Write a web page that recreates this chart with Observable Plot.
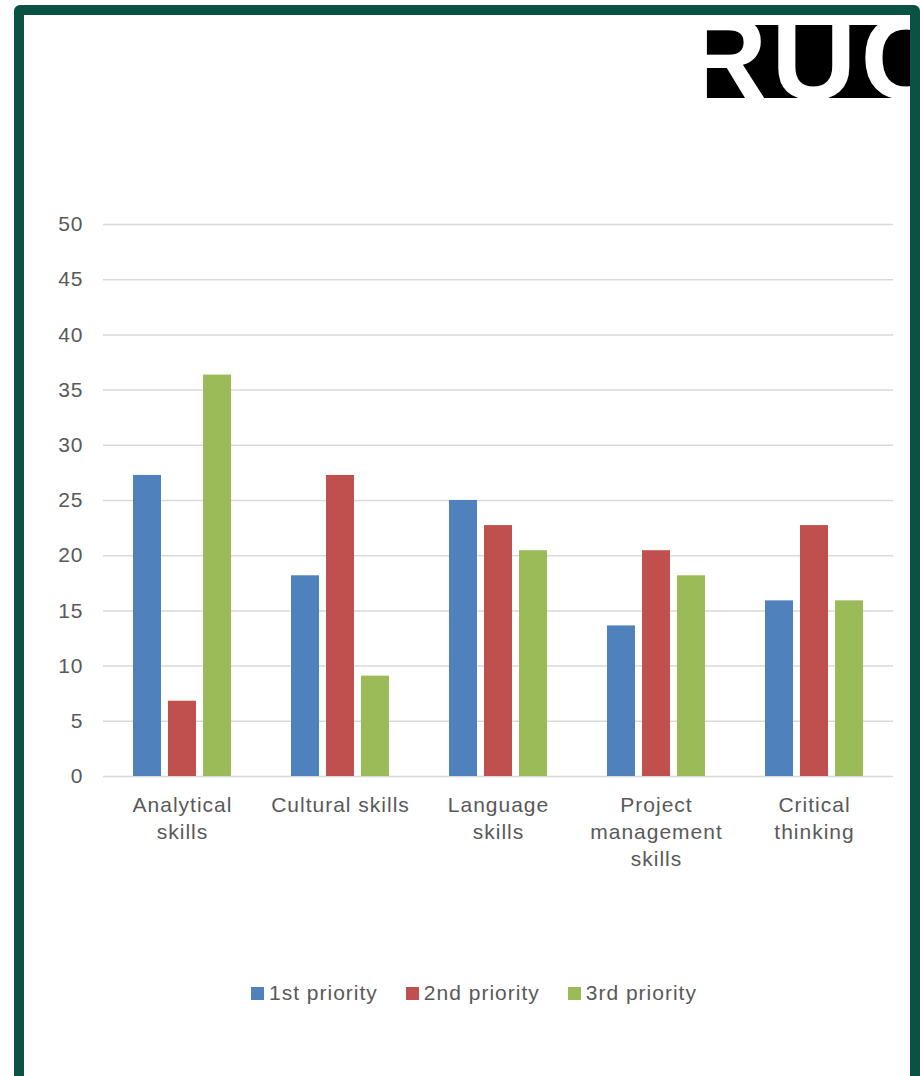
<!DOCTYPE html>
<html>
<head>
<meta charset="utf-8">
<script src="https://cdn.jsdelivr.net/npm/d3@7"></script>
<script src="https://cdn.jsdelivr.net/npm/@observablehq/plot@0.6"></script>
<style>
  html, body { margin: 0; padding: 0; background: #fff; width: 920px; height: 1076px; overflow: hidden; position: relative; font-family: "Liberation Sans", Arial, sans-serif; }
  #frame { position: absolute; left: 14px; top: 5px; width: 906px; height: 1081px; border: 10px solid #0c5244; border-radius: 6px; box-sizing: border-box; }
  #logo { position: absolute; left: 706px; top: 25px; width: 204px; height: 73px; overflow: hidden; background: #000; }
  #logo span { position: absolute; left: -24px; top: -26px; font: 700 118px "Liberation Sans", Arial, sans-serif; letter-spacing: 4px; color: #fff; line-height: 118px; white-space: nowrap; }
  #chart { position: absolute; left: 0; top: 0; }
  #chart svg text { letter-spacing: 1px; }
  #legend { position: absolute; left: 251px; top: 981px; display: flex; align-items: center; font-size: 21px; letter-spacing: 1px; color: #595959; }
  .item { display: flex; align-items: center; margin-right: 28px; }
  .sw { width: 13px; height: 13px; margin-right: 5px; }
</style>
</head>
<body>
<div id="frame"></div>
<div id="logo"><span>RUC</span></div>
<div id="chart"></div>
<div id="legend"></div>
<script>
const skills = ["Analytical skills", "Cultural skills", "Language skills", "Project management skills", "Critical thinking"];
const skillLabels = ["Analytical\nskills", "Cultural skills", "Language\nskills", "Project\nmanagement\nskills", "Critical\nthinking"];
const series = ["1st priority", "2nd priority", "3rd priority"];
const first = [27.27, 18.18, 25.0, 13.64, 15.91];
const second = [6.82, 27.27, 22.73, 20.45, 22.73];
const third = [36.36, 9.09, 20.45, 18.18, 15.91];
const colors = ["#4f81bd", "#c0504d", "#9bbb59"];
const yTicks = [0, 5, 10, 15, 20, 25, 30, 35, 40, 45, 50];

const seriesValues = [first, second, third];
const data = [];
skills.forEach((s, i) => series.forEach((k, j) => data.push({skill: s, series: k, value: seriesValues[j][i]})));

const chart = Plot.plot({
  width: 920,
  height: 900,
  marginLeft: 103,
  marginRight: 27,
  marginTop: 224,
  marginBottom: 124,
  style: {fontFamily: "'Liberation Sans', Arial, sans-serif", fontSize: "21px", background: "transparent", color: "#595959"},
  fx: {domain: skills, padding: 0},
  x: {domain: series, paddingInner: 0.2, paddingOuter: 0.85, axis: null},
  y: {domain: [0, 50], ticks: yTicks},
  color: {domain: series, range: colors},
  marks: [
    Plot.gridY(yTicks, {stroke: "#d9d9d9", strokeOpacity: 1, strokeWidth: 1.5}),
    Plot.barY(data, {fx: "skill", x: "series", y: "value", fill: "series"}),
    Plot.axisY(yTicks, {tickSize: 0, tickPadding: 20, fontSize: 21, fill: "#595959", label: null}),
    Plot.axisFx({anchor: "bottom", tickSize: 0, tickPadding: 16, fontSize: 21, lineHeight: 1.29, fill: "#595959", label: null,
      tickFormat: d => skillLabels[skills.indexOf(d)]})
  ]
});
document.getElementById("chart").appendChild(chart);

const legend = document.getElementById("legend");
series.forEach((s, i) => {
  const it = document.createElement("div");
  it.className = "item";
  const sw = document.createElement("div");
  sw.className = "sw";
  sw.style.background = colors[i];
  const t = document.createElement("span");
  t.textContent = s;
  it.appendChild(sw);
  it.appendChild(t);
  legend.appendChild(it);
});
</script>
</body>
</html>
